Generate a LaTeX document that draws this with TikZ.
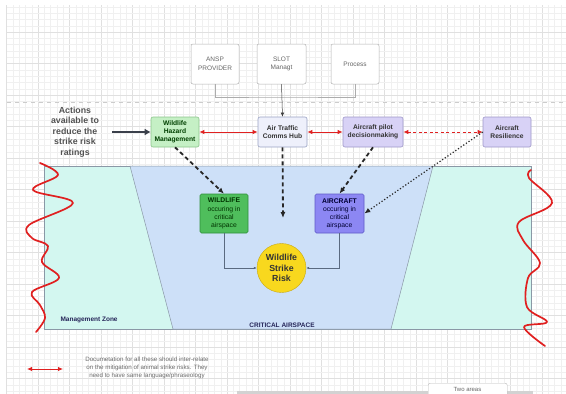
\documentclass[tikz,border=0pt]{standalone}
\usepackage{fontspec}
\setmainfont{Liberation Sans}
\usetikzlibrary{arrows.meta}
\definecolor{gminor}{HTML}{F0F0F0}
\definecolor{gmajor}{HTML}{E0E0E0}
\definecolor{mgmt}{HTML}{D3F7F0}
\definecolor{zoneline}{HTML}{8A98A6}
\definecolor{crit}{HTML}{CDE0F8}
\definecolor{whmfill}{HTML}{C5F0C5}
\definecolor{whmline}{HTML}{8BC58B}
\definecolor{hubfill}{HTML}{EEF0FB}
\definecolor{hubline}{HTML}{9AA3C4}
\definecolor{pilfill}{HTML}{D8D2F6}
\definecolor{pilline}{HTML}{9F98C9}
\definecolor{wildfill}{HTML}{4FBE5C}
\definecolor{wildline}{HTML}{2F8F3A}
\definecolor{acfill}{HTML}{8C87F3}
\definecolor{acline}{HTML}{5F5AC8}
\definecolor{riskfill}{HTML}{F8D81E}
\definecolor{riskline}{HTML}{C8A810}
\definecolor{txt}{HTML}{333333}
\definecolor{redc}{HTML}{E02020}
\definecolor{darkarrow}{HTML}{3A3F4A}
\definecolor{thinconn}{HTML}{5A6A80}
\tikzset{
  topbox/.style={draw=gray!60, fill=white, rounded corners=2pt, line width=0.5pt,
    align=center, text=gray!80!black, font=\fontsize{6.5}{8.5}\selectfont,
    minimum height=40, inner sep=1pt},
  rowbox/.style={rounded corners=2pt, line width=0.6pt, align=center, text=txt,
    font=\fontsize{6.7}{8.2}\selectfont\bfseries, minimum height=30, inner sep=1pt},
  zonebox/.style={rounded corners=1.5pt, line width=0.6pt, align=center,
    font=\fontsize{6.8}{8.1}\selectfont, minimum height=39, minimum width=48, inner sep=1pt},
  redarr/.style={draw=redc, line width=0.9pt, {Latex[length=5pt,width=4.5pt]}-{Latex[length=5pt,width=4.5pt]}},
  blkdash/.style={draw=black!85, line width=1.8pt, dash pattern=on 4pt off 3pt, -{Latex[length=6pt,width=5pt]}},
  blkdot/.style={draw=black!85, line width=1.2pt, dotted, -{Latex[length=6pt,width=5pt]}},
  thin conn/.style={draw=thinconn, line width=0.5pt, -{Latex[length=3pt,width=2.5pt]}},
  squig/.style={draw=redc, line width=1.7pt, line cap=round, line join=round},
}
\begin{document}
\begin{tikzpicture}[x=1pt,y=-1pt]
\useasboundingbox (0,0) rectangle (566,394);
\clip (0,0) rectangle (566,394);
\fill[white] (0,0) rectangle (566,394);
% grid
\foreach \i in {0,...,89} {
  \pgfmathtruncatemacro{\m}{mod(\i,5)}
  \ifnum\m=0 \draw[gmajor, line width=0.4pt] ({6.5+6.3*\i},5) -- ({6.5+6.3*\i},394);
  \else \draw[gminor, line width=0.3pt] ({6.5+6.3*\i},5) -- ({6.5+6.3*\i},394); \fi
}
\foreach \i in {0,...,62} {
  \pgfmathtruncatemacro{\m}{mod(\i,5)}
  \ifnum\m=4 \draw[gmajor, line width=0.4pt] (6.5,{6.8+6.3*\i}) -- (566,{6.8+6.3*\i});
  \else \draw[gminor, line width=0.3pt] (6.5,{6.8+6.3*\i}) -- (566,{6.8+6.3*\i}); \fi
}
% dashed separator
\draw[gray!40, line width=0.6pt, dash pattern=on 4pt off 4pt] (7,102) -- (566,102);

% zones
\draw[draw=zoneline, fill=mgmt, line width=0.5pt] (44,166) rectangle (531,329);
\draw[draw=zoneline, fill=crit, line width=0.5pt] (130,166) -- (433,166) -- (391,329) -- (173,329) -- cycle;
\node[anchor=west, font=\fontsize{6.5}{7.5}\selectfont\bfseries, text=gray!60!blue!50!black] (mz) at (57,320) {Management Zone};
\node[font=\fontsize{6.5}{7.5}\selectfont\bfseries, text=gray!60!blue!50!black] (ca) at (282,325) {CRITICAL AIRSPACE};

% top boxes
\node[topbox, minimum width=48] (ansp) at (215,64) {ANSP\\PROVIDER};
\node[topbox, minimum width=49] (slot) at (281.5,64) {SLOT\\Managt};
\node[topbox, minimum width=48] (proc) at (355,64) {Process};
\coordinate (j) at (281.5,97);

% row boxes
\node[rowbox, draw=whmline, fill=whmfill, minimum width=48, text=green!25!black] (whm) at (175,132) {Wildlife\\Hazard\\Management};
\node[rowbox, draw=hubline, fill=hubfill, minimum width=49] (hub) at (282.5,132) {Air Traffic\\Comms Hub};
\node[rowbox, draw=pilline, fill=pilfill, minimum width=60] (pil) at (373,132) {Aircraft pilot\\decisionmaking};
\node[rowbox, draw=pilline, fill=pilfill, minimum width=48] (res) at (507,132) {Aircraft\\Resilience};

% actions text
\node[align=center, text=gray!30!black!80, font=\fontsize{8.8}{10.5}\selectfont\bfseries] (act) at (75,132)
  {Actions\\available to\\reduce the\\strike risk\\ratings};
\coordinate (actend) at (112,132);

% zone boxes
\node[zonebox, draw=wildline, fill=wildfill, text=green!20!black] (wild) at (224,213.5) {\textbf{WILDLIFE}\\occuring in\\critical\\airspace};
\node[zonebox, draw=acline, fill=acfill, minimum width=49, text=blue!20!black] (ac) at (339.5,213.5) {\textbf{AIRCRAFT}\\occuring in\\critical\\airspace};
\node[circle, draw=riskline, fill=riskfill, minimum size=49, inner sep=0pt, align=center,
  font=\fontsize{8.8}{10.5}\selectfont\bfseries, text=black!80] (risk) at (281.5,268) {Wildlife\\Strike\\Risk};
\coordinate (hubend) at (283,218);

% connectors
\draw[gray!65, line width=0.5pt] (ansp.south) |- (j) -| (proc.south);
\draw[line width=0.5pt, -{Latex[length=4pt,width=3.5pt]}, draw=gray!50!black] (slot.south) -- (hub.north);
\draw[redarr] (whm.east) -- (hub.west);
\draw[redarr] (hub.east) -- (pil.west);
\draw[redarr, dash pattern=on 3pt off 2.5pt] (pil.east) -- (res.west);
\draw[draw=darkarrow, line width=2.6pt, -{Latex[length=6pt,width=7pt]}] (actend) -- (whm.west);
\draw[blkdash] (whm.south) -- (wild.north);
\draw[blkdash] (hub.south) -- (hubend);
\draw[blkdash] (pil.south) -- (ac.north);
\draw[blkdot] (res.west) -- (ac.east);
\draw[thin conn] (wild.south) |- (risk.west);
\draw[thin conn] (ac.south) |- (risk.east);

% squiggles
\draw[squig] plot[smooth, tension=0.6] coordinates {(40,163) (58,175) (33,190) (73,203) (29,225) (32,238) (48,246) (42,262) (59,278) (32,292) (40,305) (45,318) (36,332)};
\draw[squig] plot[smooth, tension=0.6] coordinates {(531,170) (529,178) (552,203) (519,222) (523,240) (540,263) (528,278) (527,307) (547,322) (524,327) (545,346)};

% legend
\coordinate (la) at (27,369);
\coordinate (lb) at (63,369);
\draw[redarr] (la) -- (lb);
\node[align=center, text=gray!85!black, font=\fontsize{6.2}{8.3}\selectfont] (legend) at (147,368)
  {Documetation for all these should inter-relate\\on the mitigation of animal strike risks. They\\need to have same language/phraseology};

% bottom right partial items
\fill[gray!35] (237,390.5) rectangle (533,393.5);
\node[draw=gray!55, fill=white, rounded corners=2pt, minimum width=79, minimum height=20, anchor=north west, inner sep=0pt] (two) at (428,383) {};
\node[font=\fontsize{6}{7}\selectfont, text=gray!80!black] (twot) at (467.5,389) {Two areas};
\end{tikzpicture}
\end{document}
